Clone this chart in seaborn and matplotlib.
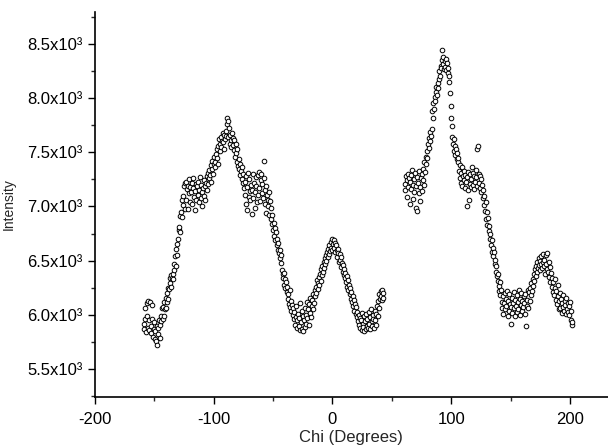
import numpy as np
import pandas as pd
import seaborn as sns
import matplotlib.pyplot as plt
from matplotlib.ticker import MultipleLocator, FuncFormatter

# left scan segment, chi -159 .. 43 in 0.5 deg steps
chi_left = [
    -159.0, -158.5, -158.0, -157.5, -157.0, -156.5, -156.0, -155.5, -155.0, -154.5,
    -154.0, -153.5, -153.0, -152.5, -152.0, -151.5, -151.0, -150.5, -150.0, -149.5,
    -149.0, -148.5, -148.0, -147.5, -147.0, -146.5, -146.0, -145.5, -145.0, -144.5,
    -144.0, -143.5, -143.0, -142.5, -142.0, -141.5, -141.0, -140.5, -140.0, -139.5,
    -139.0, -138.5, -138.0, -137.5, -137.0, -136.5, -136.0, -135.5, -135.0, -134.5,
    -134.0, -133.5, -133.0, -132.5, -132.0, -131.5, -131.0, -130.5, -130.0, -129.5,
    -129.0, -128.5, -128.0, -127.5, -127.0, -126.5, -126.0, -125.5, -125.0, -124.5,
    -124.0, -123.5, -123.0, -122.5, -122.0, -121.5, -121.0, -120.5, -120.0, -119.5,
    -119.0, -118.5, -118.0, -117.5, -117.0, -116.5, -116.0, -115.5, -115.0, -114.5,
    -114.0, -113.5, -113.0, -112.5, -112.0, -111.5, -111.0, -110.5, -110.0, -109.5,
    -109.0, -108.5, -108.0, -107.5, -107.0, -106.5, -106.0, -105.5, -105.0, -104.5,
    -104.0, -103.5, -103.0, -102.5, -102.0, -101.5, -101.0, -100.5, -100.0, -99.5,
    -99.0, -98.5, -98.0, -97.5, -97.0, -96.5, -96.0, -95.5, -95.0, -94.5,
    -94.0, -93.5, -93.0, -92.5, -92.0, -91.5, -91.0, -90.5, -90.0, -89.5,
    -89.0, -88.5, -88.0, -87.5, -87.0, -86.5, -86.0, -85.5, -85.0, -84.5,
    -84.0, -83.5, -83.0, -82.5, -82.0, -81.5, -81.0, -80.5, -80.0, -79.5,
    -79.0, -78.5, -78.0, -77.5, -77.0, -76.5, -76.0, -75.5, -75.0, -74.5,
    -74.0, -73.5, -73.0, -72.5, -72.0, -71.5, -71.0, -70.5, -70.0, -69.5,
    -69.0, -68.5, -68.0, -67.5, -67.0, -66.5, -66.0, -65.5, -65.0, -64.5,
    -64.0, -63.5, -63.0, -62.5, -62.0, -61.5, -61.0, -60.5, -60.0, -59.5,
    -59.0, -58.5, -58.0, -57.5, -57.0, -56.5, -56.0, -55.5, -55.0, -54.5,
    -54.0, -53.5, -53.0, -52.5, -52.0, -51.5, -51.0, -50.5, -50.0, -49.5,
    -49.0, -48.5, -48.0, -47.5, -47.0, -46.5, -46.0, -45.5, -45.0, -44.5,
    -44.0, -43.5, -43.0, -42.5, -42.0, -41.5, -41.0, -40.5, -40.0, -39.5,
    -39.0, -38.5, -38.0, -37.5, -37.0, -36.5, -36.0, -35.5, -35.0, -34.5,
    -34.0, -33.5, -33.0, -32.5, -32.0, -31.5, -31.0, -30.5, -30.0, -29.5,
    -29.0, -28.5, -28.0, -27.5, -27.0, -26.5, -26.0, -25.5, -25.0, -24.5,
    -24.0, -23.5, -23.0, -22.5, -22.0, -21.5, -21.0, -20.5, -20.0, -19.5,
    -19.0, -18.5, -18.0, -17.5, -17.0, -16.5, -16.0, -15.5, -15.0, -14.5,
    -14.0, -13.5, -13.0, -12.5, -12.0, -11.5, -11.0, -10.5, -10.0, -9.5,
    -9.0, -8.5, -8.0, -7.5, -7.0, -6.5, -6.0, -5.5, -5.0, -4.5,
    -4.0, -3.5, -3.0, -2.5, -2.0, -1.5, -1.0, -0.5, 0.0, 0.5,
    1.0, 1.5, 2.0, 2.5, 3.0, 3.5, 4.0, 4.5, 5.0, 5.5,
    6.0, 6.5, 7.0, 7.5, 8.0, 8.5, 9.0, 9.5, 10.0, 10.5,
    11.0, 11.5, 12.0, 12.5, 13.0, 13.5, 14.0, 14.5, 15.0, 15.5,
    16.0, 16.5, 17.0, 17.5, 18.0, 18.5, 19.0, 19.5, 20.0, 20.5,
    21.0, 21.5, 22.0, 22.5, 23.0, 23.5, 24.0, 24.5, 25.0, 25.5,
    26.0, 26.5, 27.0, 27.5, 28.0, 28.5, 29.0, 29.5, 30.0, 30.5,
    31.0, 31.5, 32.0, 32.5, 33.0, 33.5, 34.0, 34.5, 35.0, 35.5,
    36.0, 36.5, 37.0, 37.5, 38.0, 38.5, 39.0, 39.5, 40.0, 40.5,
    41.0, 41.5, 42.0, 42.5, 43.0,
]
intensity_left = [
    5920, 5870, 6060, 5960, 5840, 5990, 6110, 5880, 6130, 5950,
    5860, 6120, 5900, 5830, 6090, 5960, 5800, 5870, 5930, 5780,
    5850, 5760, 5900, 5720, 5820, 5880, 5950, 5790, 5910, 5990,
    5940, 6060, 5960, 6070, 5990, 6120, 6050, 6160, 6060, 6200,
    6120, 6250, 6150, 6240, 6340, 6290, 6370, 6260, 6340, 6330,
    6380, 6470, 6410, 6540, 6450, 6610, 6650, 6550, 6700, 6780,
    6810, 6760, 6910, 6950, 7060, 6900, 7100, 7010, 7190, 6980,
    7220, 7060, 7230, 7160, 6980, 7190, 7120, 7250, 7040, 7180,
    7130, 7220, 7020, 7170, 7260, 7090, 6970, 7140, 7210, 7060,
    7190, 7110, 7230, 7040, 7150, 7270, 7080, 7200, 7130, 7000,
    7170, 7240, 7100, 7190, 7060, 7220, 7150, 7280, 7310, 7210,
    7260, 7340, 7290, 7380, 7230, 7350, 7420, 7300, 7390, 7460,
    7410, 7360, 7480, 7530, 7450, 7390, 7560, 7620, 7510, 7580,
    7640, 7550, 7600, 7680, 7590, 7660, 7530, 7620, 7700, 7650,
    7760, 7820, 7790, 7640, 7720, 7580, 7660, 7610, 7550, 7680,
    7630, 7570, 7520, 7610, 7460, 7580, 7490, 7410, 7530, 7370,
    7440, 7350, 7390, 7290, 7330, 7250, 7360, 7220, 7300, 7170,
    7230, 7110, 7280, 7020, 7180, 6970, 7310, 7090, 7250, 7140,
    7060, 7200, 6930, 7150, 7300, 7080, 7220, 6990, 7130, 7270,
    7190, 7040, 7290, 7110, 7320, 7170, 7050, 7240, 7300, 7120,
    7210, 7080, 7260, 7420, 7150, 7020, 7190, 6940, 7110, 7060,
    7000, 7130, 6920, 7050, 6880, 6990, 6840, 6920, 6780, 6850,
    6730, 6800, 6690, 6760, 6640, 6700, 6600, 6660, 6570, 6520,
    6600, 6480, 6550, 6410, 6380, 6340, 6390, 6280, 6330, 6250,
    6300, 6210, 6260, 6150, 6190, 6100, 6230, 6070, 6130, 6040,
    6090, 6000, 6060, 5960, 6030, 5910, 6080, 5980, 5880, 5950,
    6010, 5900, 5970, 6110, 5860, 5930, 6040, 5870, 5990, 5850,
    5950, 6060, 5890, 6000, 5920, 6120, 5970, 6050, 5910, 6100,
    6020, 6160, 5980, 6080, 6140, 6050, 6190, 6110, 6230, 6170,
    6260, 6200, 6320, 6240, 6290, 6350, 6280, 6380, 6310, 6420,
    6370, 6450, 6400, 6490, 6430, 6520, 6470, 6550, 6500, 6580,
    6530, 6610, 6560, 6640, 6590, 6620, 6670, 6600, 6700, 6650,
    6690, 6620, 6660, 6580, 6640, 6600, 6530, 6610, 6570, 6490,
    6560, 6510, 6440, 6530, 6480, 6400, 6460, 6370, 6420, 6340,
    6390, 6300, 6360, 6260, 6320, 6230, 6280, 6190, 6250, 6150,
    6210, 6120, 6170, 6080, 6140, 6040, 6100, 6010, 6070, 5980,
    6030, 5940, 6000, 5910, 5970, 5880, 5950, 6020, 5860, 5920,
    5890, 5990, 5850, 5940, 5870, 6010, 5900, 5960, 5880, 6030,
    5920, 5980, 5870, 6050, 5940, 5900, 6000, 5960, 5880, 6040,
    5950, 6010, 5910, 6080, 5990, 6130, 6060, 6190, 6150, 6220,
    6170, 6230, 6140, 6200, 6160,
]

# right scan segment, chi 61 .. 202 in 0.5 deg steps
chi_right = [
    61.0, 61.5, 62.0, 62.5, 63.0, 63.5, 64.0, 64.5, 65.0, 65.5,
    66.0, 66.5, 67.0, 67.5, 68.0, 68.5, 69.0, 69.5, 70.0, 70.5,
    71.0, 71.5, 72.0, 72.5, 73.0, 73.5, 74.0, 74.5, 75.0, 75.5,
    76.0, 76.5, 77.0, 77.5, 78.0, 78.5, 79.0, 79.5, 80.0, 80.5,
    81.0, 81.5, 82.0, 82.5, 83.0, 83.5, 84.0, 84.5, 85.0, 85.5,
    86.0, 86.5, 87.0, 87.5, 88.0, 88.5, 89.0, 89.5, 90.0, 90.5,
    91.0, 91.5, 92.0, 92.5, 93.0, 93.5, 94.0, 94.5, 95.0, 95.5,
    96.0, 96.5, 97.0, 97.5, 98.0, 98.5, 99.0, 99.5, 100.0, 100.5,
    101.0, 101.5, 102.0, 102.5, 103.0, 103.5, 104.0, 104.5, 105.0, 105.5,
    106.0, 106.5, 107.0, 107.5, 108.0, 108.5, 109.0, 109.5, 110.0, 110.5,
    111.0, 111.5, 112.0, 112.5, 113.0, 113.5, 114.0, 114.5, 115.0, 115.5,
    116.0, 116.5, 117.0, 117.5, 118.0, 118.5, 119.0, 119.5, 120.0, 120.5,
    121.0, 121.5, 122.0, 122.5, 123.0, 123.5, 124.0, 124.5, 125.0, 125.5,
    126.0, 126.5, 127.0, 127.5, 128.0, 128.5, 129.0, 129.5, 130.0, 130.5,
    131.0, 131.5, 132.0, 132.5, 133.0, 133.5, 134.0, 134.5, 135.0, 135.5,
    136.0, 136.5, 137.0, 137.5, 138.0, 138.5, 139.0, 139.5, 140.0, 140.5,
    141.0, 141.5, 142.0, 142.5, 143.0, 143.5, 144.0, 144.5, 145.0, 145.5,
    146.0, 146.5, 147.0, 147.5, 148.0, 148.5, 149.0, 149.5, 150.0, 150.5,
    151.0, 151.5, 152.0, 152.5, 153.0, 153.5, 154.0, 154.5, 155.0, 155.5,
    156.0, 156.5, 157.0, 157.5, 158.0, 158.5, 159.0, 159.5, 160.0, 160.5,
    161.0, 161.5, 162.0, 162.5, 163.0, 163.5, 164.0, 164.5, 165.0, 165.5,
    166.0, 166.5, 167.0, 167.5, 168.0, 168.5, 169.0, 169.5, 170.0, 170.5,
    171.0, 171.5, 172.0, 172.5, 173.0, 173.5, 174.0, 174.5, 175.0, 175.5,
    176.0, 176.5, 177.0, 177.5, 178.0, 178.5, 179.0, 179.5, 180.0, 180.5,
    181.0, 181.5, 182.0, 182.5, 183.0, 183.5, 184.0, 184.5, 185.0, 185.5,
    186.0, 186.5, 187.0, 187.5, 188.0, 188.5, 189.0, 189.5, 190.0, 190.5,
    191.0, 191.5, 192.0, 192.5, 193.0, 193.5, 194.0, 194.5, 195.0, 195.5,
    196.0, 196.5, 197.0, 197.5, 198.0, 198.5, 199.0, 199.5, 200.0, 200.5,
    201.0, 201.5, 202.0,
]
intensity_right = [
    7210, 7150, 7280, 7240, 7090, 7300, 7180, 7260, 7020, 7230,
    7290, 7160, 7340, 7200, 7070, 7250, 7130, 7310, 6990, 7190,
    7270, 6960, 7220, 7120, 7330, 7180, 7050, 7260, 7140, 7300,
    7240, 7350, 7200, 7410, 7320, 7460, 7390, 7510, 7450, 7580,
    7540, 7630, 7600, 7690, 7650, 7710, 7880, 7820, 7950, 7900,
    8010, 7970, 8060, 8100, 8030, 8140, 8090, 8180, 8250, 8200,
    8300, 8280, 8440, 8350, 8310, 8380, 8270, 8340, 8290, 8360,
    8260, 8320, 8230, 8280, 8150, 8200, 8050, 7930, 7820, 7740,
    7640, 7580, 7620, 7510, 7560, 7470, 7530, 7440, 7490, 7410,
    7450, 7330, 7380, 7260, 7310, 7220, 7360, 7190, 7280, 7240,
    7330, 7170, 7290, 7230, 7000, 7270, 7150, 7320, 7060, 7210,
    7300, 7180, 7250, 7360, 7200, 7310, 7160, 7280, 7230, 7340,
    7270, 7190, 7530, 7560, 7300, 7220, 7280, 7170, 7250, 7130,
    7200, 7080, 7150, 7010, 7100, 6960, 7040, 6880, 6950, 6830,
    6890, 6770, 6820, 6700, 6750, 6640, 6690, 6580, 6620, 6540,
    6580, 6470, 6510, 6400, 6450, 6360, 6310, 6380, 6270, 6220,
    6300, 6180, 6230, 6120, 6060, 6170, 6010, 6110, 6200, 6050,
    6150, 6080, 6220, 5990, 6130, 6040, 6190, 6100, 5920, 6070,
    6160, 6020, 6110, 6210, 6060, 5990, 6140, 6080, 6180, 6030,
    6120, 6050, 6230, 6000, 6150, 6090, 6200, 6040, 6130, 6070,
    6170, 6110, 6010, 6190, 5900, 6080, 6140, 6230, 6060, 6210,
    6130, 6250, 6180, 6290, 6220, 6330, 6270, 6380, 6310, 6420,
    6360, 6450, 6400, 6490, 6430, 6460, 6520, 6410, 6500, 6470,
    6540, 6430, 6490, 6560, 6450, 6510, 6380, 6470, 6550, 6420,
    6570, 6400, 6490, 6350, 6440, 6300, 6390, 6260, 6340, 6210,
    6300, 6180, 6250, 6330, 6140, 6220, 6100, 6280, 6170, 6050,
    6130, 6200, 6060, 6150, 6020, 6110, 6180, 6070, 6040, 6130,
    6090, 6010, 6160, 6050, 6110, 6030, 6080, 6000, 6120, 6040,
    5950, 5910, 5930,
]

df = pd.DataFrame({
    "chi": chi_left + chi_right,
    "intensity": intensity_left + intensity_right,
})

sns.set_style("ticks")
plt.rcParams['font.family'] = ['Liberation Sans', 'DejaVu Sans']
plt.rcParams['axes.unicode_minus'] = False

fig = plt.figure(figsize=(6.08, 4.47), dpi=100)
ax = fig.add_axes([0.156, 0.112, 0.844, 0.861])

sns.scatterplot(data=df, x="chi", y="intensity", ax=ax, marker="o",
                s=11, facecolor="white", edgecolor="black", linewidth=0.7)

ax.set_xlim(-200, 232)
ax.set_ylim(5243, 8793)
ax.xaxis.set_major_locator(MultipleLocator(100))
ax.xaxis.set_minor_locator(MultipleLocator(50))
ax.yaxis.set_major_locator(MultipleLocator(500))
ax.yaxis.set_minor_locator(MultipleLocator(250))
ax.yaxis.set_major_formatter(FuncFormatter(lambda v, p: "{:.1f}x10\u00b3".format(v / 1000)))

ax.tick_params(which="major", direction="out", length=5, width=1, labelsize=12,
               colors="black", pad=4)
ax.tick_params(axis="x", which="major", pad=6)
ax.tick_params(which="minor", direction="out", length=3, width=1)
for side in ["top", "right"]:
    ax.spines[side].set_visible(False)
for side in ["left", "bottom"]:
    ax.spines[side].set_linewidth(1.2)
    ax.spines[side].set_color("black")

ax.set_xlabel("Chi (Degrees)", fontsize=12, labelpad=2)
ax.set_ylabel("Intensity", fontsize=10, labelpad=8)

fig.savefig("out.png", dpi=100)
